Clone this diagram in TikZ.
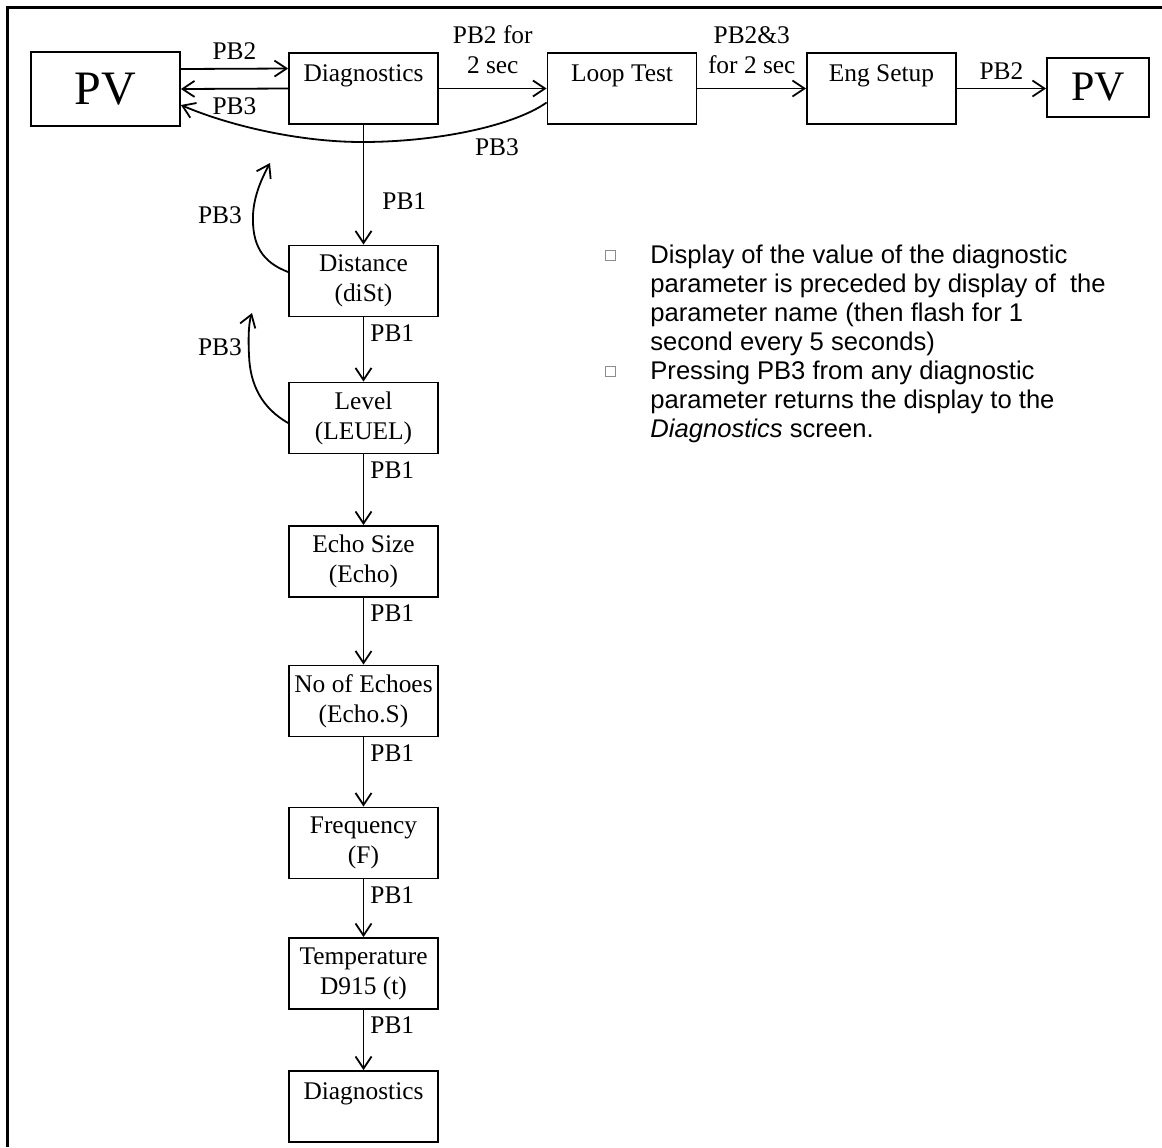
\documentclass[tikz,border=0pt]{standalone}
\usepackage{fontspec}
\setmainfont{Liberation Serif}
\newfontfamily\notefont{Liberation Sans}
\usetikzlibrary{arrows.meta,calc}
\tikzset{
  blk/.style={draw, line width=0.9pt, minimum width=74.5pt, minimum height=35.5pt,
    align=center, inner sep=0pt, font=\fontsize{12.7}{15}\selectfont},
  lbl/.style={font=\fontsize{12.7}{15}\selectfont, align=center, inner sep=4pt},
  go/.style={line width=0.9pt, -{Straight Barb[length=6pt,width=8pt]}},
  note/.style={anchor=base west, align=left, inner sep=0pt,
    font=\fontsize{12.8}{14.5}\notefont},
  tick/.style={draw=black!45, line width=0.4pt, minimum size=5pt, inner sep=0pt}
}

\begin{document}
\begin{tikzpicture}[x=0.5pt,y=-0.5pt]
\useasboundingbox (0,0) rectangle (1162,1147);
\draw [line width=1.5pt] (7,1147) -- (7,7) -- (1162,7);

% top row
\node[blk, minimum height=37pt, font=\fontsize{24}{28}\selectfont] (pvA) at (105.5,89) {PV};
\node[blk] (diagA) at (363.5,88.5) {Diagnostics\\\mbox{}};
\node[blk] (loop) at (622,88.5) {Loop Test\\\mbox{}};
\node[blk] (eng) at (881.5,88.5) {Eng Setup\\\mbox{}};
\node[blk, minimum width=51pt, minimum height=29.5pt, font=\fontsize{21}{25}\selectfont] (pvB) at (1098,87.5) {PV};

\draw[go] ([yshift=10pt]pvA.east) -- ([yshift=10pt]diagA.west) node[lbl, midway, above] {PB2};
\draw[go] (diagA.west) -- (pvA.east) node[lbl, midway, below] {PB3};
\draw[go] (diagA) -- (loop) node[lbl, midway, above=3pt] {PB2 for\\2 sec};
\draw[go] (loop) -- (eng) node[lbl, midway, above=3pt] {PB2\&3\\for 2 sec};
\draw[go] (eng.east) -- (eng.east -| pvB.west) node[lbl, midway, above] {PB2};
% back to PV from loop test
\draw[go] ([yshift=-7pt]loop.west) .. controls (515,125) and (440,142) .. (362,142)
  .. controls (300,142) and (230,126) .. ([yshift=-8pt]pvA.east);
\node[lbl] (pbc) at (497,147) {PB3};

% diagnostic column
\node[blk] (dist) at (363.5,281) {Distance\\(diSt)};
\node[blk] (lev) at (363.5,418) {Level\\(LEUEL)};
\node[blk] (echo) at (363.5,561.5) {Echo Size\\(Echo)};
\node[blk] (echs) at (363.5,701) {No of Echoes\\(Echo.S)};
\node[blk] (freq) at (363.5,843) {Frequency\\(F)};
\node[blk] (temp) at (363.5,973.5) {Temperature\\D915 (t)};
\node[blk] (diagB) at (363.5,1106.5) {Diagnostics\\\mbox{}};

\draw[go] (diagA) -- (dist) node[lbl, pos=0.64, right, xshift=5pt] {PB1};
\draw[go] (dist) -- (lev) node[lbl, pos=0, anchor=north west, inner sep=3pt] {PB1};
\draw[go] (lev) -- (echo) node[lbl, pos=0, anchor=north west, inner sep=3pt] {PB1};
\draw[go] (echo) -- (echs) node[lbl, pos=0, anchor=north west, inner sep=3pt] {PB1};
\draw[go] (echs) -- (freq) node[lbl, pos=0, anchor=north west, inner sep=3pt] {PB1};
\draw[go] (freq) -- (temp) node[lbl, pos=0, anchor=north west, inner sep=3pt] {PB1};
\draw[go] (temp) -- (diagB) node[lbl, pos=0, anchor=north west, inner sep=3pt] {PB1};

% PB3 escapes
\coordinate (tipA) at (270,163);
\coordinate (tipB) at (252,313);
\draw[go] ([yshift=4.5pt]dist.west) .. controls (262,262) and (252,245) .. (253,215)
  .. controls (254,195) and (262,178) .. (tipA);
\draw[go] ([yshift=-2.5pt]lev.west) .. controls (262,408) and (250,385) .. (249,355)
  .. controls (248,335) and (249,322) .. (tipB);
\node[lbl] (pba) at (220,215) {PB3};
\node[lbl] (pbb) at (220,347) {PB3};

% notes (base = last line)
\node[tick] (sqA) at (610,255) {};
\node[tick] (sqB) at (610,371) {};
\node[note] (noteA) at (650,350) {Display of the value of the diagnostic\\parameter is preceded by display of~ the\\parameter name (then flash for 1\\second every 5 seconds)};
\node[note] (noteB) at (650,437) {Pressing PB3 from any diagnostic\\parameter returns the display to the\\\textit{Diagnostics} screen.};
\end{tikzpicture}
\end{document}
